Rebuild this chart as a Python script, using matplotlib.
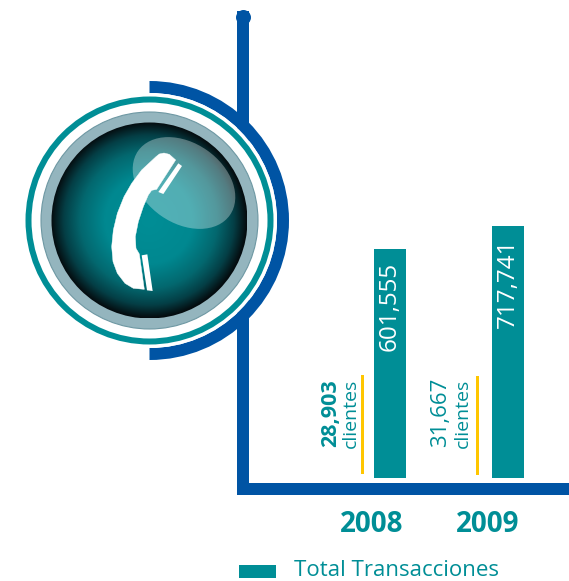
import matplotlib
matplotlib.use("Agg")
import matplotlib.pyplot as plt
import numpy as np
from matplotlib.colors import LinearSegmentedColormap
from matplotlib.patches import Circle, Ellipse, PathPatch, Polygon, Rectangle, Wedge
from matplotlib.path import Path

years = ["2008", "2009"]
transacciones = [601555, 717741]
clientes = [28903, 31667]
legend_label = "Total Transacciones"

TEAL = "#008E96"
BLUE = "#0054A4"
YELLOW = "#FFC600"
W, H = 569, 581
px = 72 / 100

plt.rcParams["font.family"] = ["Open Sans", "DejaVu Sans"]
fig = plt.figure(figsize=(W / 100, H / 100), dpi=100, facecolor="white")

# bar chart with the blue axis lines
ax = fig.add_axes([243 / W, (H - 489) / H, (W - 243) / W, (489 - 16.5) / H], zorder=1)
ax.set_xlim(-1.246, 1.517)
ax.set_ylim(-610800, 1776000)
baseline = -555300
x = np.arange(len(years))
ax.bar(x, np.array(transacciones) - baseline, bottom=baseline, width=0.263, color=TEAL)
for i, v in enumerate(transacciones):
    ax.annotate(f"{v:,}", (i, v), xytext=(0, -13 * px), textcoords="offset points",
                rotation=90, ha="center", va="top", color="white", fontsize=17.5)
for s in ["top", "right"]:
    ax.spines[s].set_visible(False)
for s in ["left", "bottom"]:
    ax.spines[s].set_linewidth(12 * px)
    ax.spines[s].set_color(BLUE)
ax.set_xticks([])
ax.set_yticks([])
ax.plot([0], [1], "o", transform=ax.transAxes, clip_on=False, ms=15 * px, mfc=BLUE, mec="none")

# overlay in pixel coordinates for the emblem and the free text
pg = fig.add_axes([0, 0, 1, 1], zorder=2)
pg.set_xlim(0, W)
pg.set_ylim(H, 0)
pg.axis("off")
pg.patch.set_alpha(0)

cx, cy = 149.5, 220.5
pg.add_patch(Wedge((cx, cy), 139.5, -90, 90, width=12, color=BLUE, lw=0))
pg.add_patch(Circle((cx, cy), 127.5, color="white", lw=0))
pg.add_patch(Circle((cx, cy), 121, fc="none", ec=TEAL, lw=6 * px))
pg.add_patch(Circle((cx, cy), 108.5, fc="#94B5BE", ec="#6E98A3", lw=0.8))

# dark sphere with a radial gradient
sphere_cmap = LinearSegmentedColormap.from_list(
    "sphere",
    [(0, "#008E96"), (0.45, "#008890"), (0.7, "#03686F"), (0.87, "#043F46"), (1, "#050C0F")],
)
yy, xx = np.mgrid[-1:1:400j, -1:1:400j]
im = pg.imshow(np.hypot(xx, yy), cmap=sphere_cmap, vmin=0, vmax=1,
               extent=(cx - 98, cx + 98, cy + 98, cy - 98), interpolation="bilinear", zorder=2)
im.set_clip_path(Circle((cx, cy), 98, transform=pg.transData))
pg.set_xlim(0, W)
pg.set_ylim(H, 0)

pg.add_patch(Ellipse((184, 183), 112, 80, angle=35, color="white", alpha=0.32, lw=0, zorder=3))


# handset outline, traced on a 3x grid
def grid(pts):
    return [(a / 3, 60 + b / 3) for a, b in pts]


handset = grid([
    (468, 290), (478, 282), (492, 279), (508, 283), (527, 300), (470, 388), (455, 391),
    (445, 405), (430, 440), (415, 485), (406, 530), (408, 565), (418, 582), (433, 688),
    (400, 685), (375, 670), (352, 640), (339, 605), (335, 560), (340, 510), (352, 460),
    (372, 410), (395, 370), (425, 330),
])
codes = [Path.MOVETO] + [Path.LINETO] * (len(handset) - 1) + [Path.CLOSEPOLY]
pg.add_patch(PathPatch(Path(handset + [handset[0]], codes), fc="white", ec="white", lw=0.3, zorder=4))
pg.add_patch(Polygon(grid([(535, 310), (546, 318), (490, 402), (475, 396)]), color="white", lw=0, zorder=4))
pg.add_patch(Polygon(grid([(425, 586), (442, 583), (458, 693), (441, 691)]), color="white", lw=0, zorder=4))

# client counts next to the yellow rules
pg.add_patch(Rectangle((361, 375), 3, 99, color=YELLOW, lw=0))
pg.add_patch(Rectangle((476, 376), 3, 99, color=YELLOW, lw=0))
pg.text(330.5, 413.5, f"{clientes[0]:,}", rotation=90, ha="center", va="center",
        color=TEAL, fontsize=15.5, fontweight="bold")
pg.text(351, 413, "clientes", rotation=90, ha="center", va="center", color=TEAL, fontsize=14)
pg.text(441, 412, f"{clientes[1]:,}", rotation=90, ha="center", va="center",
        color=TEAL, fontsize=16)
pg.text(463, 413, "clientes", rotation=90, ha="center", va="center", color=TEAL, fontsize=14)

# year labels and legend
pg.text(372, 524, years[0], ha="center", va="center", color=TEAL, fontsize=20, fontweight="bold")
pg.text(488, 524, years[1], ha="center", va="center", color=TEAL, fontsize=20, fontweight="bold")
pg.add_patch(Rectangle((239, 565), 37, 13, color=TEAL, lw=0))
pg.text(294, 576, legend_label, ha="left", va="baseline", color=TEAL, fontsize=16)

fig.savefig("out.png", dpi=100)
